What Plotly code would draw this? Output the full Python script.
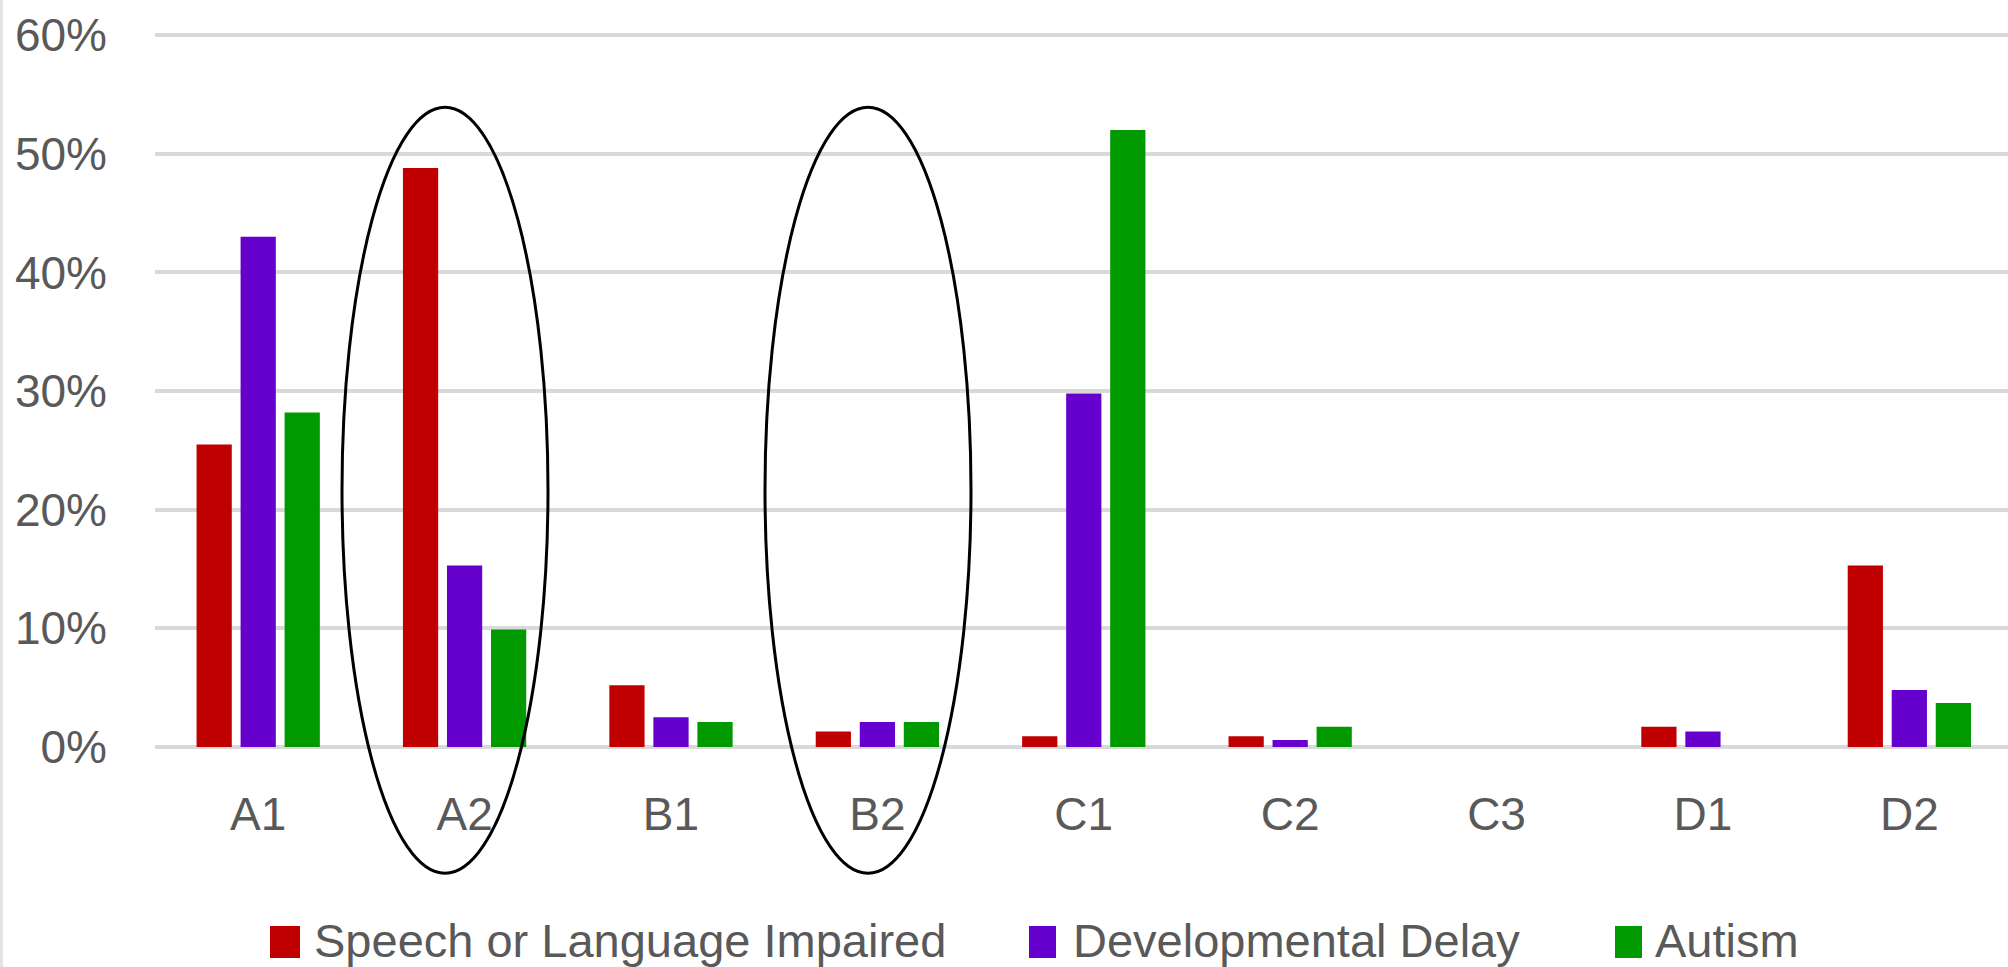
import plotly.graph_objects as go

categories = ["A1", "A2", "B1", "B2", "C1", "C2", "C3", "D1", "D2"]
speech = [0.255, 0.488, 0.052, 0.013, 0.009, 0.009, 0.0, 0.017, 0.153]
devdelay = [0.430, 0.153, 0.025, 0.021, 0.298, 0.006, 0.0, 0.013, 0.048]
autism = [0.282, 0.099, 0.021, 0.021, 0.520, 0.017, 0.0, 0.0, 0.037]
series_names = ["Speech or Language Impaired", "Developmental Delay", "Autism"]
colors = ["#C00000", "#6600CC", "#009900"]

W, H = 2008, 967
L, R, T, B = 155, 0, 34, 220
PW, PH = W - L - R, H - T - B


def px(x):
    return (x - L) / PW


def py(y):
    return (H - B - y) / PH


FONT = "Liberation Sans, Arial, sans-serif"
TXT = "#595959"
GRID = "#D9D9D9"

fig = go.Figure()
for name, vals, col in zip(series_names, [speech, devdelay, autism], colors):
    fig.add_trace(go.Bar(x=categories, y=vals, name=name, marker_color=col,
                         marker_line_width=0, showlegend=False))

shapes = []
# ellipses
for x0, x1 in [(342, 548), (765, 971)]:
    shapes.append(dict(type="circle", xref="paper", yref="paper",
                       x0=px(x0), x1=px(x1), y0=py(873.3), y1=py(107.3),
                       line=dict(color="black", width=3), layer="above"))
# left border
shapes.append(dict(type="line", xref="paper", yref="paper",
                   x0=px(1.5), x1=px(1.5), y0=py(0), y1=py(967),
                   line=dict(color="#E3E3E3", width=3)))

annotations = []
legend_items = [(270, 300, 312), (1029, 1056, 1071), (1615, 1642, 1653)]
for (mx0, mx1, tx), name, col in zip(legend_items, series_names, colors):
    shapes.append(dict(type="rect", xref="paper", yref="paper",
                       x0=px(mx0), x1=px(mx1), y0=py(958), y1=py(926),
                       fillcolor=col, line_width=0))
    annotations.append(dict(text=name, xref="paper", yref="paper",
                            x=px(tx), y=py(940), xanchor="left", yanchor="middle",
                            showarrow=False, font=dict(family=FONT, size=47, color=TXT)))

fig.update_layout(
    width=W, height=H,
    margin=dict(l=L, r=R, t=T, b=B, autoexpand=False),
    paper_bgcolor="white", plot_bgcolor="white",
    barmode="group", bargap=0.36, bargroupgap=0.2,
    shapes=shapes, annotations=annotations,
    font=dict(family=FONT, size=46, color=TXT),
)
fig.update_xaxes(range=[-0.5, 8.478], showline=False, showgrid=False, ticks="",
                 ticklabelstandoff=36,
                 tickfont=dict(family=FONT, size=46, color=TXT))
fig.update_yaxes(range=[0, 0.601], tickvals=[0, 0.1, 0.2, 0.3, 0.4, 0.5, 0.6],
                 tickformat=".0%", showline=False,
                 showgrid=True, gridcolor=GRID, gridwidth=4,
                 zeroline=True, zerolinecolor=GRID, zerolinewidth=4,
                 ticks="", ticklabelstandoff=47,
                 tickfont=dict(family=FONT, size=46, color=TXT))

fig.write_html("out.html")
